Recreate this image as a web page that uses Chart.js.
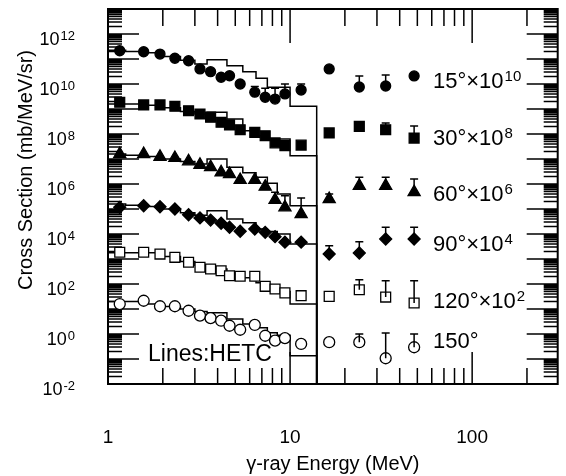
<!DOCTYPE html>
<html>
<head>
<meta charset="utf-8">
<script src="https://cdn.jsdelivr.net/npm/chart.js@4/dist/chart.umd.min.js"></script>
<style>
  body { margin: 0; background: #fff; }
  canvas { display: block; }
</style>
</head>
<body>
<canvas id="c" width="566" height="476"></canvas>
<script>
// gamma-ray energies of the measured points (MeV)
const energy = [1.16, 1.57, 1.93, 2.33, 2.77, 3.2, 3.66, 4.18, 4.65, 5.32, 6.4, 7.3, 8.27, 9.37, 11.5, 16.4, 24, 33.5, 48];

// measured cross sections, already multiplied by the factor in the label
const sig15  = [2.14e11, 1.95e11, 1.58e11, 1.07e11, 8.5e10, 4.0e10, 3.1e10, 1.86e10, 2.14e10, 1.0e10, 4.7e9, 2.95e9, 2.5e9, 4.0e9, 5.75e9, 4.0e10, 7.6e9, 8.3e9, 2.1e10];
const sig30  = [1.86e9, 1.45e9, 1.45e9, 1.29e9, 8.5e8, 6.3e8, 4.7e8, 2.95e8, 2.3e8, 1.48e8, 1.17e8, 8.5e7, 4.4e7, 3.4e7, 3.6e7, 1.1e8, 2.0e8, 1.48e8, 6.9e7];
const sig60  = [1.58e7, 1.58e7, 1.23e7, 1.1e7, 8.1e6, 5.9e6, 4.7e6, 2.95e6, 2.5e6, 1.45e6, 1.45e6, 7.8e5, 2.3e5, 1.17e5, 6.3e4, 2.5e5, 8.5e5, 8.5e5, 4.7e5];
const sig90  = [1.17e5, 1.35e5, 1.23e5, 1.0e5, 5.9e4, 4.4e4, 3.6e4, 2.7e4, 1.86e4, 1.29e4, 1.58e4, 1.17e4, 7.8e3, 4.7e3, 4.7e3, 1.58e3, 1.74e3, 6.3e3, 6.3e3];
const sig120 = [1860, 1860, 1580, 1170, 741, 468, 398, 339, 214, 204, 204, 81, 63, 44, 34, 32, 59, 30, 17.4];
const sig150 = [15.8, 21.4, 12.9, 12.9, 8.5, 5.4, 4.3, 3.4, 2.14, 1.48, 2.3, 0.85, 0.54, 0.68, 0.4, 0.47, 0.47, 0.107, 0.295];

// upper ends of the error bars (null = no bar drawn)
const err15  = [null, null, null, null, null, null, null, null, null, null, 7.9e9, 6.8e9, 6.8e9, 1.0e10, 1.0e10, null, 2.1e10, 2.3e10, null];
const err30  = [null, null, null, null, null, null, null, null, null, null, null, null, null, null, null, null, 2.5e8, 2.75e8, 2.1e8];
const err60  = [null, null, null, null, null, null, null, null, null, null, null, null, 4.7e5, 3.4e5, 2.75e5, 4.0e5, 1.86e6, 1.86e6, 1.58e6];
const err90  = [null, null, null, null, null, null, null, null, null, null, null, null, null, null, null, 3.4e3, 4.9e3, 1.86e4, 1.86e4];
const err120 = [null, null, null, null, null, null, null, null, null, null, null, null, null, null, null, null, 148, 135, 135];
const err150 = [null, null, null, null, null, null, null, null, null, null, null, null, null, null, null, null, 1.0, 1.1, 1.0];

// HETC histogram: bin edges (MeV) and bin contents
const binEdges = [1, 1.25, 1.5, 2, 2.5, 3, 3.5, 4.5, 5.5, 6.5, 7.5, 8.5, 10, 14];
const hetc15  = [2.24e11, 2.0e11, 1.78e11, 1.26e11, 8.9e10, 6.3e10, 9.3e10, 5.4e10, 3.1e10, 1.7e10, 7.4e9, 7.4e9, 1.29e9];
const hetc30  = [1.58e9, 1.58e9, 1.41e9, 1.12e9, 7.9e8, 6.3e8, 7.4e8, 4.0e8, 1.35e8, 8.5e7, 6.3e7, 6.3e7, 1.35e7];
const hetc60  = [1.58e7, 1.41e7, 1.26e7, 1.0e7, 7.9e6, 6.3e6, 1.0e7, 4.7e6, 2.8e6, 1.86e6, 1.07e6, 4.0e5, 1.35e5];
const hetc90  = [1.58e5, 1.41e5, 1.26e5, 1.0e5, 7.1e4, 5.6e4, 8.5e4, 4.0e4, 2.8e4, 1.58e4, 1.26e4, 1.0e4, 4.0e3];
const hetc120 = [1780, 1780, 1780, 1260, 794, 562, 398, 251, 178, 112, 71, 50, 15.8];
const hetc150 = [20, 20, 15.8, 12.6, 10, 7.9, 7.1, 4.0, 2.5, 1.78, 1.12, 0.89, 0.135];

const angles = ['15°', '30°', '60°', '90°', '120°', '150°'];
const factorExps = ['10', '8', '6', '4', '2', ''];

const xTickLabels = ['1', '10', '100'];
const yTickExps = [-2, 0, 2, 4, 6, 8, 10, 12];

const xMin = 1, xMax = 295, yMin = 1e-2, yMax = 1e13;
const FONT = '"Liberation Sans", Arial, sans-serif';

const sigs = [sig15, sig30, sig60, sig90, sig120, sig150];
const errs = [err15, err30, err60, err90, err120, err150];
const hetcs = [hetc15, hetc30, hetc60, hetc90, hetc120, hetc150];

// marker look per angle
const markers = [
  { style: 'circle',   bg: '#000', r: 5 },
  { style: 'rect',     bg: '#000', r: 7 },
  { style: 'triangle', bg: '#000', r: 7 },
  { style: 'rectRot',  bg: '#000', r: 6 },
  { style: 'rect',     bg: '#fff', r: 7 },
  { style: 'circle',   bg: '#fff', r: 5.5 }
];
// where the angle labels sit (pixels)
const labelX = 433;
const labelY = [80, 137, 193, 243, 300, 340];

const datasets = [];
angles.forEach(function (a, k) {
  const h = hetcs[k];
  const pts = binEdges.slice(0, -1).map(function (e, i) { return { x: e, y: h[i] }; });
  pts.push({ x: binEdges[binEdges.length - 1], y: h[h.length - 1] });
  pts.push({ x: binEdges[binEdges.length - 1], y: yMin });
  datasets.push({
    type: 'line', label: 'HETC ' + a, data: pts, stepped: true,
    borderColor: '#000', borderWidth: 1.5, pointRadius: 0, fill: false, order: 2
  });
  datasets.push({
    type: 'scatter', label: a,
    data: energy.map(function (e, i) { return { x: e, y: sigs[k][i] }; }),
    pointStyle: markers[k].style, pointRadius: markers[k].r,
    pointBackgroundColor: markers[k].bg, pointBorderColor: '#000', pointBorderWidth: 1.3,
    showLine: false, order: 1
  });
});

function drawSup(ctx, x, y, base, exp, bSize, eSize, align) {
  ctx.font = bSize + 'px ' + FONT;
  const wb = ctx.measureText(base).width;
  ctx.font = eSize + 'px ' + FONT;
  const we = exp ? ctx.measureText(exp).width + 1 : 0;
  let x0 = x;
  if (align === 'right') x0 = x - wb - we;
  if (align === 'center') x0 = x - (wb + we) / 2;
  ctx.textAlign = 'left';
  ctx.textBaseline = 'alphabetic';
  ctx.fillStyle = '#000';
  ctx.font = bSize + 'px ' + FONT;
  ctx.fillText(base, x0, y + bSize * 0.358);
  if (exp) {
    ctx.font = eSize + 'px ' + FONT;
    ctx.fillText(exp, x0 + wb + 1, y + 0.5);
  }
}

const decorations = {
  id: 'decorations',
  beforeDatasetsDraw(chart) {
    const ctx = chart.ctx, a = chart.chartArea;
    const xs = chart.scales.x, ys = chart.scales.y;
    ctx.save();
    ctx.strokeStyle = '#000';
    ctx.lineWidth = 1.5;
    ctx.beginPath();
    // y ticks, both sides, pointing inward
    for (let d = -2; d <= 12; d++) {
      const yp = ys.getPixelForValue(Math.pow(10, d));
      ctx.moveTo(a.left, yp); ctx.lineTo(a.left + 31, yp);
      ctx.moveTo(a.right, yp); ctx.lineTo(a.right - 31, yp);
      for (let m = 2; m <= 9; m++) {
        const ym = ys.getPixelForValue(m * Math.pow(10, d));
        ctx.moveTo(a.left, ym); ctx.lineTo(a.left + 14, ym);
        ctx.moveTo(a.right, ym); ctx.lineTo(a.right - 14, ym);
      }
    }
    // x ticks, top and bottom
    for (let d = 0; d <= 2; d++) {
      const xp = xs.getPixelForValue(Math.pow(10, d));
      ctx.moveTo(xp, a.bottom); ctx.lineTo(xp, a.bottom - 32);
      ctx.moveTo(xp, a.top); ctx.lineTo(xp, a.top + 34);
      for (let m = 2; m <= 9; m++) {
        const v = m * Math.pow(10, d);
        if (v > xMax) break;
        const xm = xs.getPixelForValue(v);
        ctx.moveTo(xm, a.bottom); ctx.lineTo(xm, a.bottom - 16);
        ctx.moveTo(xm, a.top); ctx.lineTo(xm, a.top + 17);
      }
    }
    ctx.stroke();
    ctx.restore();
  },
  afterDatasetsDraw(chart) {
    const ctx = chart.ctx;
    const xs = chart.scales.x, ys = chart.scales.y;
    ctx.save();
    ctx.strokeStyle = '#000';
    ctx.lineWidth = 1.5;
    ctx.beginPath();
    errs.forEach(function (err, k) {
      err.forEach(function (top, i) {
        if (top === null) return;
        const xp = xs.getPixelForValue(energy[i]);
        const y0 = ys.getPixelForValue(sigs[k][i]);
        const y1 = ys.getPixelForValue(top);
        ctx.moveTo(xp, y0); ctx.lineTo(xp, y1);
        ctx.moveTo(xp - 4, y1); ctx.lineTo(xp + 4, y1);
      });
    });
    ctx.stroke();
    // frame
    const a = chart.chartArea;
    ctx.lineWidth = 2;
    ctx.strokeRect(a.left, a.top, a.right - a.left, a.bottom - a.top);
    ctx.restore();
  },
  afterDraw(chart) {
    const ctx = chart.ctx, a = chart.chartArea;
    const xs = chart.scales.x, ys = chart.scales.y;
    ctx.save();
    // y tick labels
    yTickExps.forEach(function (e) {
      const yp = ys.getPixelForValue(Math.pow(10, e));
      drawSup(ctx, 75, yp + 5, '10', String(e), 18, 13, 'right');
    });
    // x tick labels
    ctx.fillStyle = '#000';
    ctx.font = '19px ' + FONT;
    ctx.textAlign = 'center';
    ctx.textBaseline = 'middle';
    xTickLabels.forEach(function (t) {
      ctx.fillText(t, xs.getPixelForValue(Number(t)), 438);
    });
    // axis titles
    ctx.font = '20px ' + FONT;
    ctx.fillText('γ-ray Energy (MeV)', (a.left + a.right) / 2, 464);
    ctx.save();
    ctx.translate(26, 170);
    ctx.rotate(-Math.PI / 2);
    ctx.fillText('Cross Section (mb/MeV/sr)', 0, 0);
    ctx.restore();
    // angle labels
    angles.forEach(function (ang, k) {
      const base = factorExps[k] ? ang + '×10' : ang;
      drawSup(ctx, labelX, labelY[k], base, factorExps[k], 22, 15, 'left');
    });
    // note
    ctx.fillStyle = '#000';
    ctx.font = '23px ' + FONT;
    ctx.textAlign = 'left';
    ctx.textBaseline = 'middle';
    ctx.fillText('Lines:HETC', 148, 355);
    ctx.restore();
  }
};

new Chart(document.getElementById('c'), {
  data: { datasets: datasets },
  options: {
    responsive: false,
    animation: false,
    layout: { padding: { left: 108, top: 9, right: 3, bottom: 92 } },
    plugins: { legend: { display: false }, tooltip: { enabled: false } },
    scales: {
      x: { type: 'logarithmic', min: xMin, max: xMax, display: false },
      y: { type: 'logarithmic', min: yMin, max: yMax, display: false }
    }
  },
  plugins: [decorations]
});
</script>
</body>
</html>
